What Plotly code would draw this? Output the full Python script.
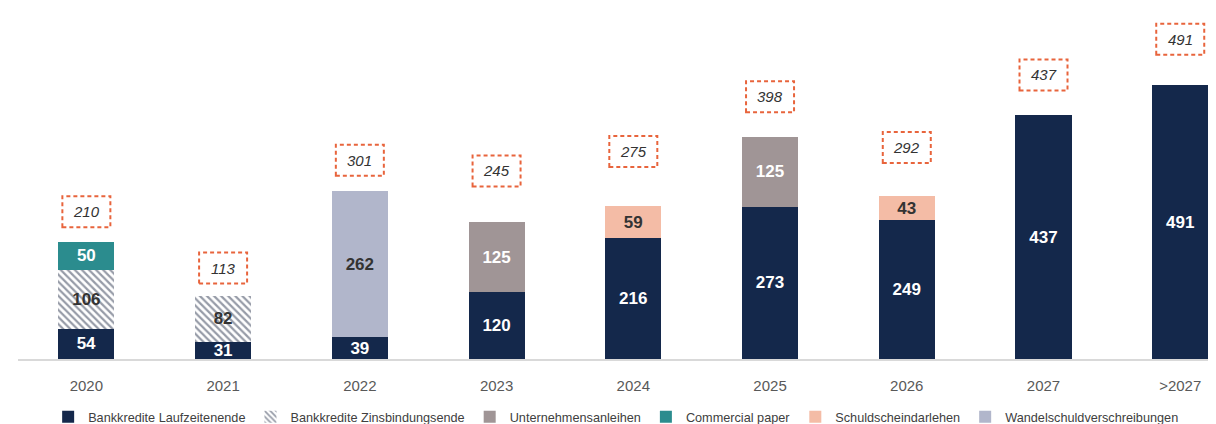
import plotly.graph_objects as go

categories = ["2020", "2021", "2022", "2023", "2024", "2025", "2026", "2027", ">2027"]
bank_laufzeit = [54, 31, 39, 120, 216, 273, 249, 437, 491]
bank_zinsbindung = [106, 82, None, None, None, None, None, None, None]
unternehmensanleihen = [None, None, None, 125, None, 125, None, None, None]
commercial_paper = [50, None, None, None, None, None, None, None, None]
schuldschein = [None, None, None, None, 59, None, 43, None, None]
wandel = [None, None, 262, None, None, None, None, None, None]
totals = [210, 113, 301, 245, 275, 398, 292, 437, 491]

# label placement (data units) for the dashed total boxes
total_label_pos = [264, 163, 356, 337, 372, 470, 379, 509, 573]

FONT = "Liberation Sans, Arial, sans-serif"
NAVY = "#14284B"

series = [
    ("Bankkredite Laufzeitenende", bank_laufzeit, NAVY, "white", None),
    ("Bankkredite Zinsbindungsende", bank_zinsbindung, "white", "#333333", "\\"),
    ("Unternehmensanleihen", unternehmensanleihen, "#A09596", "white", None),
    ("Commercial paper", commercial_paper, "#2B8C8E", "white", None),
    ("Schuldscheindarlehen", schuldschein, "#F4BCA6", "#333333", None),
    ("Wandelschuldverschreibungen", wandel, "#B1B6CB", "#333333", None),
]

fig = go.Figure()
for name, vals, color, tcolor, pattern in series:
    marker = dict(color=color, line=dict(width=0))
    if pattern:
        marker["pattern"] = dict(shape=pattern, fgcolor="#2E3850", bgcolor="white",
                                 size=5, solidity=0.45)
    fig.add_trace(go.Bar(
        x=categories, y=vals, name=name, marker=marker, width=0.41,
        text=[str(v) if v else "" for v in vals],
        textposition="inside", insidetextanchor="middle", textangle=0,
        textfont=dict(family=FONT, size=17, color=tcolor, weight="bold"),
        constraintext="none", cliponaxis=False,
    ))

for i, (tot, pos) in enumerate(zip(totals, total_label_pos)):
    fig.add_shape(type="rect", xref="x", yref="y", xsizemode="pixel", ysizemode="pixel",
                  xanchor=i, yanchor=pos, x0=-24, x1=24, y0=-15.5, y1=15.5,
                  line=dict(color="#E8643C", width=2, dash="4px,3px"),
                  fillcolor="white", layer="above")
    fig.add_annotation(x=i, y=pos, xref="x", yref="y", text=f"<i>{tot}</i>",
                       showarrow=False,
                       font=dict(family=FONT, size=15, color="#333333"))

fig.update_layout(
    barmode="stack",
    width=1216, height=424,
    margin=dict(l=10, r=0, t=0, b=69),
    paper_bgcolor="white", plot_bgcolor="white",
    uniformtext=dict(minsize=17, mode="show"),
    showlegend=True,
    legend=dict(orientation="h", x=0.025, xanchor="left", yref="paper",
                y=-0.166, yanchor="middle", traceorder="normal",
                font=dict(family=FONT, size=12.7, color="#404040"),
                itemwidth=30, itemsizing="constant"),
    xaxis=dict(type="category", range=[-0.5, 8.32], showline=True, automargin=False,
               linecolor="#D9D9D9", linewidth=2, showgrid=False,
               ticks="outside", ticklen=12, tickcolor="rgba(0,0,0,0)",
               tickfont=dict(family=FONT, size=15, color="#595959")),
    yaxis=dict(range=[0, 629], visible=False, showgrid=False, automargin=False),
)

fig.write_html("out.html")
